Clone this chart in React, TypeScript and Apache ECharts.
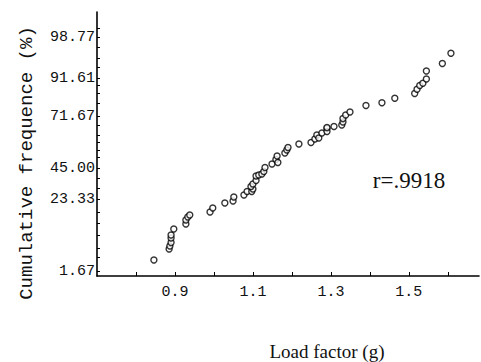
import React, { useEffect, useRef } from "react";
import * as echarts from "echarts";

// Load factor (g) of each observation
const loadFactor: number[] = [
  0.846, 0.885, 0.887, 0.89, 0.89, 0.89, 0.897, 0.928, 0.928, 0.933, 0.938,
  0.99, 0.997, 1.028, 1.049, 1.051, 1.077, 1.085, 1.097, 1.1, 1.095, 1.1,
  1.108, 1.108, 1.115, 1.123, 1.128, 1.131, 1.149, 1.159, 1.162, 1.164,
  1.182, 1.187, 1.19, 1.218, 1.249, 1.259, 1.264, 1.269, 1.277, 1.29, 1.29,
  1.29, 1.308, 1.328, 1.331, 1.331, 1.338, 1.349, 1.39, 1.431, 1.464, 1.515,
  1.521, 1.528, 1.536, 1.545, 1.545, 1.586, 1.608,
];

// Position on the probability-paper scale (0 = bottom of the axis)
const paperPos: number[] = [
  16, 27, 30, 33.5, 38, 41, 47, 52, 56, 59, 61, 64, 68, 73, 75, 79, 81, 84.5,
  84.5, 87, 89.5, 92, 95.5, 100, 101, 102, 104.5, 108.5, 112, 116.5, 120,
  113.5, 123, 126, 128.5, 132, 133.5, 137, 141, 138, 143, 147.5, 144.5, 148.5,
  149.5, 151, 154, 157.5, 161, 164, 170.5, 173.3, 177.7, 182.5, 186.7, 190.5,
  192.7, 197, 205, 212.5, 222.7,
];

// Labelled ticks of the cumulative-frequency (%) axis, in paper positions
const yLabelPos: number[] = [5, 77, 108, 160, 198, 239];
const yLabelText: string[] = ["1.67", "23.33", "45.00", "71.67", "91.61", "98.77"];
const yTickPos: number[] = [
  5, 19, 28, 41, 53, 64, 77, 88, 98, 108, 119, 126, 134, 141, 151, 160, 173,
  183, 191, 198, 209, 218, 229, 239, 248,
];

const xLabelValues: number[] = [0.9, 1.1, 1.3, 1.5];
const xTickValues: number[] = [0.8, 0.9, 1.0, 1.1, 1.2, 1.3, 1.4, 1.5, 1.6];

const App: React.FC = () => {
  const ref = useRef<HTMLDivElement>(null);

  useEffect(() => {
    document.body.style.margin = "0";
    if (!ref.current) return;
    const chart = echarts.init(ref.current, undefined, { renderer: "svg" });
    const data = loadFactor.map((x, i) => [x, paperPos[i]]);
    chart.setOption({
      animation: false,
      backgroundColor: "#ffffff",
      grid: { left: 97, top: 12, width: 382, bottom: 86 },
      xAxis: {
        type: "value",
        min: 0.7,
        max: 1.68,
        splitLine: { show: false },
        axisLine: { show: true, lineStyle: { color: "#000", width: 1.6 } },
        axisTick: {
          show: true,
          inside: true,
          length: 4,
          customValues: xTickValues,
          lineStyle: { color: "#000", width: 1 },
        },
        axisLabel: {
          customValues: xLabelValues,
          formatter: (v: number) => v.toFixed(1),
          fontFamily: "Liberation Mono",
          fontSize: 15,
          color: "#111",
          margin: 9,
        },
      },
      yAxis: {
        type: "value",
        min: 0,
        max: 264,
        splitLine: { show: false },
        axisLine: { show: true, lineStyle: { color: "#000", width: 1.6 } },
        axisTick: {
          show: true,
          inside: true,
          length: 3,
          customValues: yTickPos,
          lineStyle: { color: "#000", width: 1 },
        },
        axisLabel: {
          customValues: yLabelPos,
          formatter: (v: number) => {
            const i = yLabelPos.indexOf(Math.round(v));
            return i >= 0 ? yLabelText[i] : "";
          },
          fontFamily: "Liberation Mono",
          fontSize: 15,
          color: "#111",
          margin: 2,
        },
      },
      series: [
        {
          type: "scatter",
          data,
          symbol: "circle",
          symbolSize: 6,
          itemStyle: { color: "#ffffff", borderColor: "#000", borderWidth: 1.4 },
        },
      ],
      graphic: [
        {
          type: "text",
          x: 27,
          y: 163,
          rotation: Math.PI / 2,
          style: {
            text: "Cumulative frequence (%)",
            fontFamily: "Liberation Mono",
            fontSize: 19,
            fill: "#111",
            textAlign: "center",
            textVerticalAlign: "middle",
          },
        },
        {
          type: "text",
          x: 327,
          y: 351,
          style: {
            text: "Load factor (g)",
            fontFamily: "Liberation Serif",
            fontSize: 19,
            fill: "#111",
            textAlign: "center",
            textVerticalAlign: "middle",
          },
        },
        {
          type: "text",
          x: 409,
          y: 180,
          style: {
            text: "r=.9918",
            fontFamily: "Liberation Serif",
            fontSize: 23,
            fill: "#111",
            textAlign: "center",
            textVerticalAlign: "middle",
          },
        },
      ],
    });
    return () => chart.dispose();
  }, []);

  return <div ref={ref} style={{ width: 481, height: 362 }} />;
};

export default App;
